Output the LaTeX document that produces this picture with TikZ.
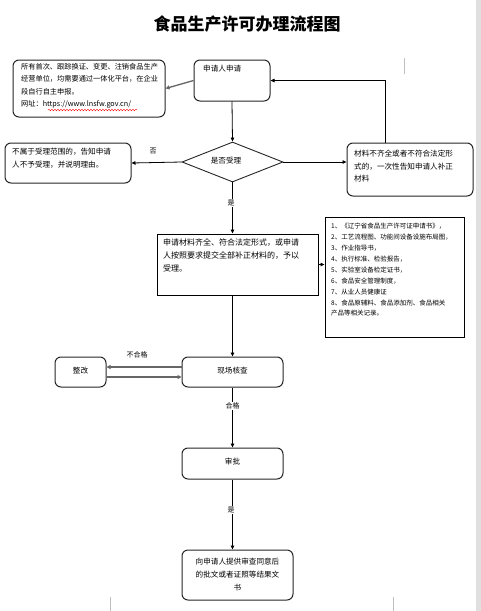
\documentclass[tikz,border=0pt]{standalone}
\usepackage{fontspec}
\setmainfont{Noto Sans CJK SC}
\usetikzlibrary{shapes.geometric,arrows.meta,decorations.pathmorphing}
\begin{document}
\begin{tikzpicture}[x=1pt,y=-1pt,
  rbox/.style={draw=black!85,rounded corners=6pt,line width=1pt,inner sep=0pt},
  sbox/.style={draw=black,line width=1pt,inner sep=0pt},
  txt/.style={anchor=north west,inner sep=0pt,align=left,font=\fontsize{7.6}{12.5}\selectfont},
  ctxt/.style={inner sep=0pt,align=center,font=\fontsize{7.6}{13}\selectfont},
  lbl/.style={inner sep=1pt,fill=white,font=\fontsize{7}{8}\selectfont},
  conn/.style={draw=black,line width=0.8pt,-{Triangle[length=4pt,width=3.5pt]}},
  gconn/.style={draw=black!60,line width=1.3pt,-{Triangle[length=4pt,width=4pt]}},
  pagemark/.style={draw=black!25,line width=0.6pt}
]
\useasboundingbox (0,0) rectangle (481,611);
\fill[white] (0,0) rectangle (481,611);
\fill[black!12] (476,0) rectangle (481,611);
% page corner marks
\draw[pagemark] (404,58) -- (404,74);
\draw[pagemark] (110,597) -- (110,611);
\draw[pagemark] (393,597) -- (393,611);

% title
\node[inner sep=0pt,font=\fontsize{17}{20}\selectfont\bfseries] (title) at (247,24) {食品生产许可办理流程图};

% boxes
\node[rbox,minimum width=152,minimum height=57] (info) at (89,88.5) {};
\node[txt,font=\fontsize{7.2}{12.5}\selectfont] (infot) at (21,63) {所有首次、跟踪换证、变更、注销食品生产\\经营单位，均需要通过一体化平台，在企业\\段自行自主申报。\\网址：https://www.lnsfw.gov.cn/};
\draw[red,line width=0.4pt,decorate,decoration={snake,amplitude=0.8pt,segment length=3pt}] (48,110) -- (137,110);

\node[rbox,minimum width=76,minimum height=41] (apply) at (232,80.5) {};
\node[txt] (applyt) at (203,65) {申请人申请};

\node[draw=black!85,line width=0.9pt,diamond,minimum width=101,minimum height=40,inner sep=0pt] (dia) at (232.5,162) {};
\node[ctxt] (diat) at (226,161) {是否受理};

\node[rbox,minimum width=126,minimum height=40] (rej) at (68,163) {};
\node[txt] (rejt) at (12,148) {不属于受理范围的，告知申请\\人不予受理，并说明理由。};

\node[rbox,minimum width=126,minimum height=53] (supp) at (410,169.5) {};
\node[txt] (suppt) at (354,150) {材料不齐全或者不符合法定形\\式的，一次性告知申请人补正\\材料};

\node[sbox,minimum width=161,minimum height=61] (acc) at (237.5,264.5) {};
\node[txt,font=\fontsize{8}{13}\selectfont] (acct) at (163,238) {申请材料齐全、符合法定形式，或申请\\人按照要求提交全部补正材料的，予以\\受理。};

\node[sbox,minimum width=139,minimum height=120] (list) at (394.5,277) {};
\node[txt,font=\fontsize{6.5}{10.9}\selectfont] (listt) at (331,223) {1、《辽宁省食品生产许可证申请书》，\\2、工艺流程图、功能间设备设施布局图，\\3、作业指导书，\\4、执行标准、检验报告，\\5、实验室设备检定证书，\\6、食品安全管理制度，\\7、从业人员健康证\\8、食品原辅料、食品添加剂、食品相关\\产品等相关记录。};

\node[rbox,minimum width=51,minimum height=30] (fix) at (80.5,372) {};
\node[ctxt] (fixt) at (80.5,371) {整改};
\node[rbox,minimum width=101,minimum height=30] (chk) at (232.5,372) {};
\node[ctxt] (chkt) at (232.5,371) {现场核查};
\node[rbox,minimum width=101,minimum height=31] (appr) at (232.5,463.5) {};
\node[ctxt] (apprt) at (232.5,462) {审批};
\node[rbox,minimum width=111,minimum height=50] (res) at (237.5,575) {};
\node[ctxt] (rest) at (237.5,575) {向申请人提供审查同意后\\的批文或者证照等结果文\\书};

% connectors
\draw[gconn] (apply.west) -- (info.east);
\draw[conn] (apply.south) -- (dia.north);
\draw[conn] (dia.west) -- (rej.east);
\draw[conn] (dia.east) -- (supp.west |- dia.east);
\coordinate (up) at (385,80.5);
\draw[conn] (supp.north -| up) -- (up) -- (apply.east);
\draw[conn] (dia.south) -- (dia.south |- acc.north);
\draw[conn] (acc.east) -- (list.west |- acc.east);
\draw[conn] (acc.south -| dia.south) -- (chk.north);
\draw[gconn] ([yshift=5pt]chk.west) -- ([yshift=5pt]fix.east);
\draw[gconn] ([yshift=-5pt]fix.east) -- ([yshift=-5pt]chk.west);
\draw[conn] (chk.south) -- (appr.north);
\draw[conn] (appr.south) -- (appr.south |- res.north);

% labels
\node[lbl,fill=none] (no) at (153,151) {否};
\node[lbl] (yes1) at (231,203) {是};
\node[lbl,fill=none] (bhg) at (137,355) {不合格};
\node[lbl] (hg) at (232.5,406) {合格};
\node[lbl] (yes2) at (231,510) {是};
\end{tikzpicture}
\end{document}
